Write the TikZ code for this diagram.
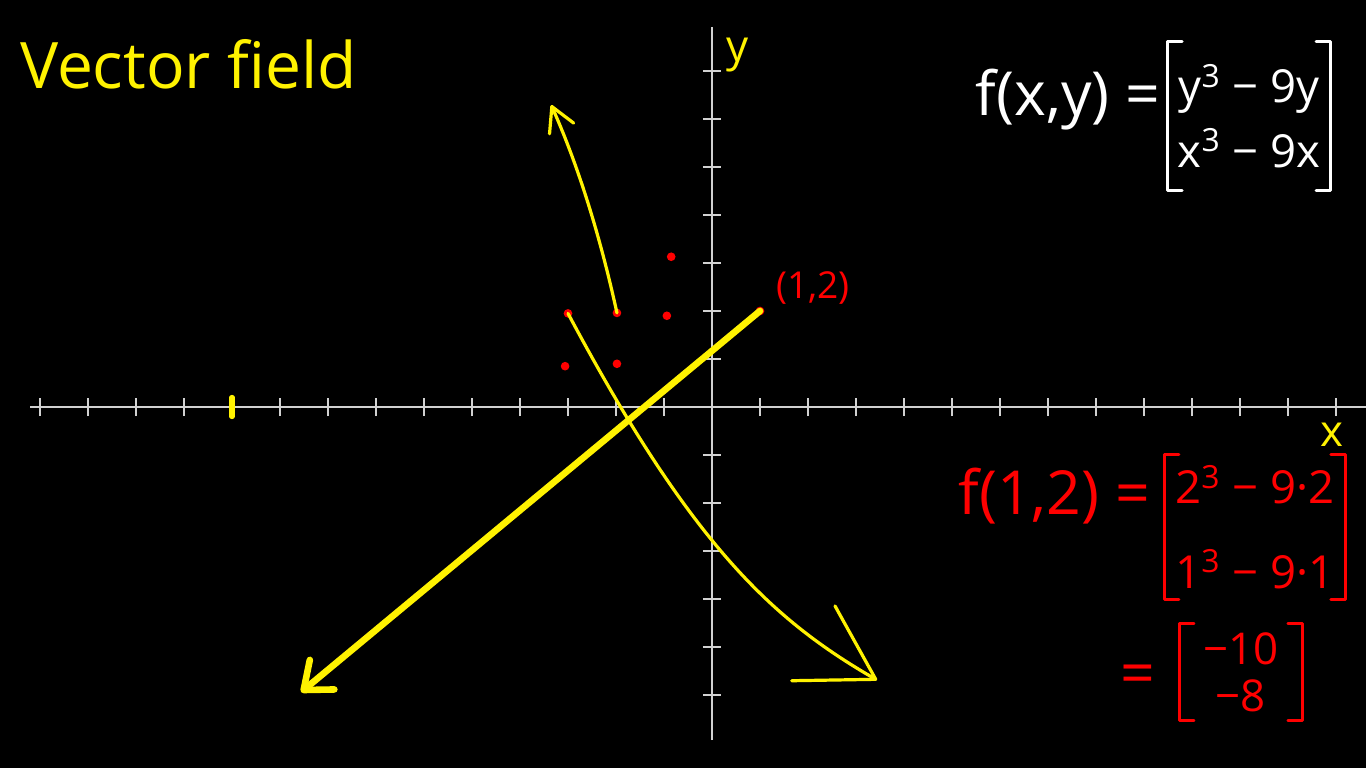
\documentclass[tikz,border=0pt]{standalone}
\usepackage{fontspec}
\setmainfont{Open Sans}
\usetikzlibrary{arrows.meta, positioning}
\tikzset{
  axis/.style={line width=1.4pt, draw=white!82!black},
  tick/.style={line width=1pt, draw=white!82!black},
  dot/.style={circle, fill=red, inner sep=0pt, minimum size=0.18cm},
  vec/.style={draw=yellow, line width=1.9pt, line cap=round},
  bigvec/.style={draw=yellow, line width=3.9pt, line cap=round,
                 -{Straight Barb[round, length=0.5cm, width=0.8cm]}},
  brak/.style={line width=1.6pt, line cap=round, line join=round},
  mat/.style={inner sep=0pt, align=center, font=\fontsize{27}{38}\selectfont},
  handtxt/.style={inner sep=0pt, font=\fontsize{36}{40}\selectfont},
}

\begin{document}
\begin{tikzpicture}
  % the board
  \fill[black] (-14.833,-7.521) rectangle (13.625,8.479);
  \useasboundingbox (-14.833,-7.521) rectangle (13.625,8.479);

  % axes and ticks
  \coordinate (xl) at (-14.2,0);
  \coordinate (xr) at (13.625,0);
  \coordinate (yb) at (0,-6.94);
  \coordinate (yt) at (0,7.92);
  \draw[axis] (xl) -- (xr);
  \draw[axis] (yb) -- (yt);
  \foreach \i in {-14,...,13}
    \draw[tick] (\i,-0.19) -- (\i,0.19);
  \foreach \j in {-6,...,7}
    \draw[tick] (-0.19,\j) -- (0.19,\j);
  \draw[yellow, line width=3pt, line cap=round] (-10,-0.2) -- (-10,0.2);

  \node[text=yellow, font=\fontsize{26}{28}\selectfont] (ylab) at (0.54,7.33) {y};
  \node[text=yellow, font=\fontsize{26}{28}\selectfont] (xlab) at (12.92,-0.58) {x};
  \node[text=yellow, font=\fontsize{38}{40}\selectfont, anchor=west, inner sep=0pt]
    (title) at (-14.42,7.13) {Vector field};

  % sample points
  \node[dot] (p12) at (1,2) {};
  \node[dot] (pa) at (-0.85,3.13) {};
  \node[dot] (pb) at (-0.94,1.9) {};
  \node[dot] (pc) at (-1.98,1.96) {};
  \node[dot] (pd) at (-3,1.95) {};
  \node[dot] (pe) at (-3.06,0.85) {};
  \node[dot] (pf) at (-1.98,0.9) {};
  \node[text=red, font=\fontsize{22}{24}\selectfont, inner sep=0pt,
        above right=0.07cm and 0.26cm of p12] (lab12) {(1,2)};

  % vectors
  \coordinate (e12) at (-8.56,-5.94);
  \coordinate (ec) at (-3.35,6.29);
  \coordinate (ed) at (3.44,-5.69);
  \draw[bigvec] (p12.center) -- (e12);
  \draw[vec, -{Straight Barb[round, length=0.5cm, width=0.55cm]}]
    (pc.center) .. controls (-2.30,3.42) and (-2.74,4.92) .. (ec);
  \draw[vec, -{Straight Barb[round, length=1.5cm, width=1.8cm]}]
    (pd.center) .. controls (-0.415,-2.9) and (1.275,-4.44) .. (ed);

  % the field
  \node[mat, text=white, minimum width=3.375cm, minimum height=3.08cm] (fm) at (11.19,6.06)
    {y\textsuperscript{3} − 9y\\x\textsuperscript{3} − 9x};
  \node[handtxt, text=white, left=0.15cm of fm, yshift=0.34cm] (fxy) {f(x,y) =};

  % the field at (1,2)
  \node[mat, text=red, minimum width=3.75cm, minimum height=3cm,
        font=\fontsize{27}{50}\selectfont] (m12) at (11.31,-2.5)
    {2\textsuperscript{3} − 9·2\\1\textsuperscript{3} − 9·1};
  \node[handtxt, text=red, left=0.3cm of m12, yshift=0.65cm] (f12) {f(1,2) =};
  \node[mat, text=red, minimum width=2.54cm, minimum height=2cm,
        font=\fontsize{26}{28}\selectfont] (m2) at (11.02,-5.52) {−10\\−8};
  \node[handtxt, text=red, left=0.5cm of m2, yshift=-0.17cm] (eq2) {=};

  \foreach \m/\c in {fm/white, m12/red, m2/red} {
    \draw[brak, \c] ([xshift=0.3cm]\m.north west) -- (\m.north west)
      -- (\m.south west) -- ++(0.3,0);
    \draw[brak, \c] ([xshift=-0.3cm]\m.north east) -- (\m.north east)
      -- (\m.south east) -- ++(-0.3,0);
  }
\end{tikzpicture}
\end{document}
